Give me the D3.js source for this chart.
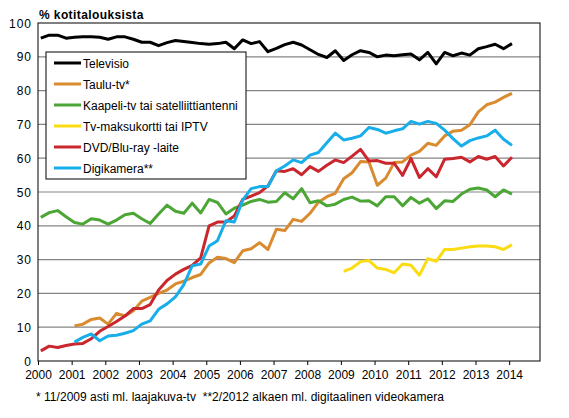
<!DOCTYPE html>
<html>
<head>
<meta charset="utf-8">
<script src="https://cdn.jsdelivr.net/npm/d3@7"></script>
<style>
  body { margin: 0; background: #fff; }
  svg { display: block; font-family: "Liberation Sans", Arial, sans-serif; }
</style>
</head>
<body>
<svg id="chart" width="569" height="418"></svg>
<script>
// quarterly survey rounds: Feb, May, Aug, Nov; 2000/2 .. 2014/2
const years = d3.range(2000, 2015);
const months = [2, 5, 8, 11];
const periods = years.flatMap(y => months.map(m => ({ year: y, month: m })))
  .filter(p => p.year < 2014 || p.month === 2);

const televisio = [95.5, 96.4, 96.4, 95.5, 95.8, 95.9, 95.9, 95.8, 95.2, 95.9, 95.9, 95.2,
  94.3, 94.3, 93.3, 94.2, 94.8, 94.5, 94.2, 93.9, 93.7, 93.9, 94.3, 92.4, 95.0, 93.9, 94.5, 91.5,
  92.5, 93.6, 94.3, 93.5, 92.1, 90.7, 89.8, 91.8, 88.9, 90.6, 91.8, 91.3, 90.0, 90.5, 90.3, 90.6,
  90.8, 89.1, 91.3, 87.9, 91.3, 90.3, 91.1, 90.5, 92.4, 93.0, 93.7, 92.4, 93.9];
const tauluTv = [null, null, null, null, 10.4, 10.9, 12.3, 12.7, 10.9, 14.1, 13.3, 14.9,
  17.7, 18.8, 20.0, 21.0, 22.8, 23.6, 24.7, 25.6, 29.0, 30.7, 30.3, 29.1, 32.6, 33.2, 35.0, 33.0,
  39.0, 38.6, 41.9, 41.3, 43.7, 47.0, 48.6, 49.6, 53.9, 55.7, 59.0, 58.9, 52.0, 54.1, 58.7, 58.9,
  60.9, 62.0, 64.4, 63.8, 66.6, 68.0, 68.3, 69.9, 73.7, 75.8, 76.6, 78.0, 79.2];
const kaapeli = [42.5, 43.9, 44.5, 42.7, 41.0, 40.5, 42.1, 41.7, 40.5, 41.7, 43.3, 43.7,
  42.1, 40.7, 43.5, 46.1, 44.3, 43.7, 46.7, 43.8, 47.8, 46.9, 43.5, 45.2, 46.1, 47.2, 47.8, 47.0,
  47.2, 49.8, 48.0, 51.0, 46.8, 47.4, 45.9, 46.4, 47.8, 48.5, 47.3, 47.4, 45.9, 48.6, 48.6, 45.9,
  48.4, 46.7, 48.0, 45.1, 47.4, 47.2, 49.4, 50.8, 51.2, 50.6, 48.6, 50.6, 49.4];
const maksukortti = [null, null, null, null, null, null, null, null, null, null, null, null,
  null, null, null, null, null, null, null, null, null, null, null, null, null, null, null, null,
  null, null, null, null, null, null, null, null, 26.5, 27.5, 29.4, 29.7, 27.5, 27.1, 26.1, 28.7,
  28.3, 25.4, 30.3, 29.5, 33.0, 33.0, 33.4, 33.8, 34.0, 34.0, 33.8, 33.0, 34.4];
const dvd = [3.0, 4.4, 4.0, 4.6, 5.0, 5.2, 6.6, 8.8, 10.2, 11.7, 13.3, 15.5,
  15.5, 16.7, 21.0, 23.8, 25.7, 27.1, 28.3, 30.5, 40.0, 41.1, 41.1, 42.9, 47.8, 48.8, 49.8, 51.8,
  56.3, 56.1, 56.9, 55.1, 57.5, 56.1, 57.9, 59.5, 58.7, 60.6, 62.6, 59.2, 59.3, 58.5, 58.5, 54.9,
  59.9, 54.3, 56.9, 54.5, 59.7, 59.9, 60.3, 58.9, 60.5, 59.7, 60.5, 57.7, 60.3];
const digikamera = [null, null, null, null, 5.6, 7.0, 8.0, 6.0, 7.4, 7.6, 8.2, 9.0,
  10.9, 11.9, 15.3, 16.9, 19.0, 22.6, 28.2, 28.7, 34.0, 35.6, 41.5, 41.1, 47.6, 51.0, 51.6, 51.6,
  56.3, 57.7, 59.5, 58.7, 60.9, 61.7, 64.6, 67.4, 65.4, 65.9, 66.6, 69.1, 68.5, 67.4, 68.1, 68.7,
  70.9, 70.1, 70.9, 70.3, 68.3, 65.8, 63.6, 65.2, 66.0, 66.6, 68.3, 65.6, 63.8];

const seriesNames = ["Televisio", "Taulu-tv*", "Kaapeli-tv tai satelliittiantenni",
  "Tv-maksukortti tai IPTV", "DVD/Blu-ray -laite", "Digikamera**"];
const seriesValues = [televisio, tauluTv, kaapeli, maksukortti, dvd, digikamera];
const seriesColors = ["#000000", "#d98b2f", "#4ca636", "#fbdc12", "#c9262d", "#18aeea"];
const yTicks = d3.range(0, 101, 10);
const footnote = "* 11/2009 asti ml. laajakuva-tv  **2/2012 alkaen ml. digitaalinen videokamera";

const svg = d3.select("#chart");
const plotLeft = 38, plotRight = 540, plotTop = 23, plotBottom = 361;

const x = d3.scaleLinear().domain([2000, 2014 + 11 / 12]).range([plotLeft, plotRight]);
const y = d3.scaleLinear().domain([0, 100]).range([plotBottom, plotTop]);
const t = p => p.year + (p.month - 1) / 12;

// grid
svg.append("g").selectAll("line").data(yTicks.filter(v => v > 0 && v < 100)).join("line")
  .attr("x1", plotLeft).attr("x2", plotRight)
  .attr("y1", d => y(d)).attr("y2", d => y(d))
  .attr("stroke", "#858585").attr("stroke-width", 1.2);

// y labels
svg.append("g").selectAll("text").data(yTicks).join("text")
  .attr("x", plotLeft - 6).attr("y", d => y(d) + 4.5)
  .attr("text-anchor", "end")
  .attr("font-size", 12).attr("letter-spacing", 1)
  .text(d => d);

// x axis
const xAxis = d3.axisBottom(x).tickValues(years).tickFormat(d3.format("d")).tickSize(4).tickPadding(5);
const gx = svg.append("g").attr("transform", `translate(0,${plotBottom})`).call(xAxis);
gx.select(".domain").remove();
gx.selectAll(".tick line").attr("stroke", "#000");
gx.selectAll(".tick text").attr("font-size", 12).attr("fill", "#000")
  .attr("font-family", "Liberation Sans, Arial, sans-serif");

// lines
const line = d3.line()
  .defined(d => d.v != null)
  .x(d => x(t(d.p)))
  .y(d => y(d.v));

svg.append("g").selectAll("path").data(seriesValues).join("path")
  .attr("d", vals => line(vals.map((v, i) => ({ p: periods[i], v }))))
  .attr("fill", "none")
  .attr("stroke", (d, i) => seriesColors[i])
  .attr("stroke-width", 3)
  .attr("stroke-linejoin", "round");

// frame
svg.append("rect").attr("x", plotLeft).attr("y", plotTop)
  .attr("width", plotRight - plotLeft).attr("height", plotBottom - plotTop)
  .attr("fill", "none").attr("stroke", "#000").attr("stroke-width", 1);

// title
svg.append("text").attr("x", 39).attr("y", 19)
  .attr("font-size", 12).attr("font-weight", "bold").attr("letter-spacing", 0.4)
  .text("% kotitalouksista");

// legend
const legend = svg.append("g").attr("transform", "translate(46,52)");
legend.append("rect").attr("width", 200).attr("height", 127)
  .attr("fill", "#fff").attr("stroke", "#000").attr("stroke-width", 1);
const rows = legend.selectAll("g").data(seriesNames).join("g")
  .attr("transform", (d, i) => `translate(0,${11 + i * 21})`);
rows.append("line").attr("x1", 8).attr("x2", 35)
  .attr("stroke", (d, i) => seriesColors[i]).attr("stroke-width", 3);
rows.append("text").attr("x", 37).attr("y", 4.5)
  .attr("font-size", 12).text(d => d);

// footnote
svg.append("text").attr("x", 36).attr("y", 401)
  .attr("font-size", 12).attr("textLength", 408).attr("lengthAdjust", "spacing")
  .style("white-space", "pre")
  .text(footnote);
</script>
</body>
</html>
